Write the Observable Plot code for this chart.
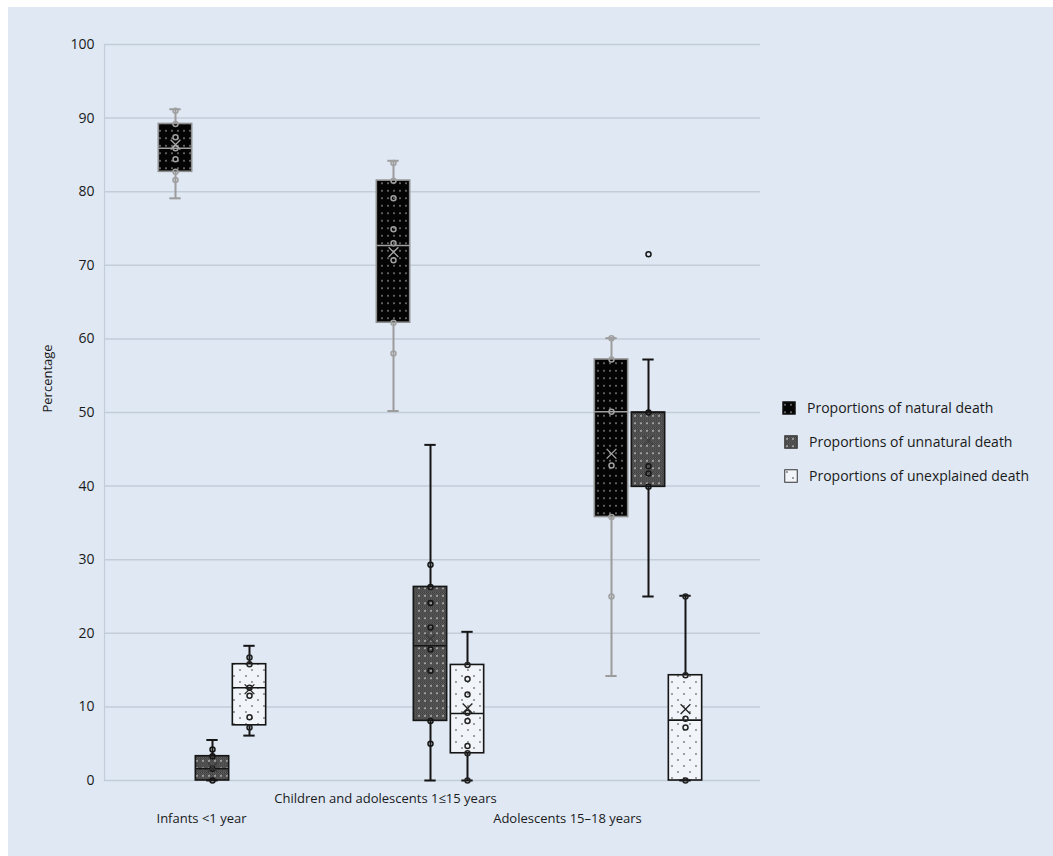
<!DOCTYPE html>
<html>
<head>
<meta charset="utf-8">
<script src="https://cdn.jsdelivr.net/npm/d3@7"></script>
<script src="https://cdn.jsdelivr.net/npm/@observablehq/plot@0.6"></script>
<style>
  body { margin: 0; background: #ffffff; }
  #panel { position: absolute; left: 8px; top: 7px; width: 1045px; height: 849px; background: #dfe8f3; overflow: hidden; }
  #chart { position: absolute; left: 0; top: 0; }
  #legend { position: absolute; left: 774px; top: 390px; font-family: "Open Sans", sans-serif; font-size: 14px; color: #1a1a1a; }
  .row { position: absolute; left: 0; display: flex; align-items: center; white-space: nowrap; }
  .row svg { margin-right: 11px; flex: none; }
</style>
</head>
<body>
<svg width="0" height="0" style="position:absolute">
  <defs>
    <pattern id="pNat" width="6" height="7.5" patternUnits="userSpaceOnUse">
      <rect width="6" height="7.5" fill="#040404"/>
      <circle cx="3" cy="3.75" r="0.75" fill="#e8e8e8"/>
    </pattern>
    <pattern id="pChk" width="2" height="2" patternUnits="userSpaceOnUse">
      <rect width="2" height="2" fill="#666666"/>
      <rect width="1" height="1" fill="#383838"/>
      <rect x="1" y="1" width="1" height="1" fill="#383838"/>
    </pattern>
    <pattern id="pUnn" width="6" height="7.5" patternUnits="userSpaceOnUse">
      <rect width="6" height="7.5" fill="url(#pChk)"/>
      <circle cx="3" cy="3.75" r="0.8" fill="#f4f4f4"/>
    </pattern>
    <pattern id="pUnx" width="12" height="12" patternUnits="userSpaceOnUse">
      <rect width="12" height="12" fill="#f1f4f8"/>
      <circle cx="3" cy="3" r="0.8" fill="#333"/>
      <circle cx="9" cy="9" r="0.8" fill="#333"/>
    </pattern>
  </defs>
</svg>
<div id="panel">
  <div id="chart"></div>
  <div id="legend"></div>
</div>
<script>
// ---- data ----
const categories = ["Infants <1 year", "Children and adolescents 1≤15 years", "Adolescents 15–18 years"];
const seriesNames = ["Proportions of natural death", "Proportions of unnatural death", "Proportions of unexplained death"];
const yTicks = [0, 10, 20, 30, 40, 50, 60, 70, 80, 90, 100];

// [min, q1, median, q3, max] per category
const naturalBox = [[79.1, 82.7, 85.9, 89.2, 91.2], [50.2, 62.2, 72.7, 81.5, 84.2], [14.2, 35.8, 50.1, 57.2, 60.1]];
const unnaturalBox = [[0, 0, 1.6, 3.3, 5.5], [0, 8.1, 18.3, 26.3, 45.6], [25.0, 39.9, 50.0, 50.0, 57.2]];
const unexplainedBox = [[6.1, 7.5, 12.6, 15.8, 18.3], [0, 3.7, 9.1, 15.7, 20.2], [0, 0, 8.2, 14.3, 25.1]];

const naturalMean = [86.4, 71.8, 44.4];
const unnaturalMean = [1.8, 19.2, 46.2];
const unexplainedMean = [12.4, 9.8, 9.7];

const naturalPoints = [[91.0, 89.2, 87.4, 85.9, 84.4, 82.7, 81.6], [83.9, 81.5, 79.1, 74.9, 73.0, 70.7, 62.2, 58.0], [60.1, 57.2, 50.1, 42.8, 35.8, 25.0]];
const unnaturalPoints = [[4.2, 3.3, 1.6, 0], [29.3, 26.3, 24.1, 20.8, 17.8, 14.9, 8.1, 5.0], [71.5, 50.0, 42.7, 41.7, 39.9]];
const unexplainedPoints = [[16.7, 15.8, 12.6, 11.5, 8.6, 7.2], [15.7, 13.8, 11.7, 9.2, 8.1, 4.7, 3.7, 0], [25.0, 14.3, 8.4, 7.2, 0]];

// ---- styles ----
const styles = [
  {fill: "url(#pNat)", stroke: "#8e8e8e", whisker: "#9c9c9c", median: "#a0a0a0", dot: "#a0a0a0", mean: "#a8a8a8"},
  {fill: "url(#pUnn)", stroke: "#151515", whisker: "#151515", median: "#151515", dot: "#151515", mean: "#3a3a3a"},
  {fill: "url(#pUnx)", stroke: "#151515", whisker: "#151515", median: "#151515", dot: "#222222", mean: "#222222"}
];
const boxes = [naturalBox, unnaturalBox, unexplainedBox];
const means = [naturalMean, unnaturalMean, unexplainedMean];
const points = [naturalPoints, unnaturalPoints, unexplainedPoints];

const bandW = 656 / 3;
const boxInset = (bandW - 34) / 2;
const capInset = (bandW - 12) / 2;

const marks = [
  Plot.ruleY(yTicks, {stroke: "#c3cdd9", strokeWidth: 1.5}),
  Plot.frame({anchor: "left", stroke: "#c3cdd9", strokeWidth: 1.2}),
  Plot.axisY({ticks: yTicks, tickSize: 0, tickPadding: 10, fontSize: 14, label: null}),
  Plot.text(["Percentage"], {frameAnchor: "left", dx: -57, rotate: -90, fontSize: 13}),
  Plot.text([categories[0]], {x: d => d, frameAnchor: "bottom", dx: -11, dy: 42, fontSize: 13}),
  Plot.text([categories[1]], {x: d => d, frameAnchor: "bottom", dx: -45, dy: 22, fontSize: 13}),
  Plot.text([categories[2]], {x: d => d, frameAnchor: "bottom", dx: -81, dy: 42, fontSize: 13})
];

seriesNames.forEach((name, i) => {
  const st = styles[i];
  const dx = (i - 1) * 37;
  const rows = categories.map((c, j) => ({
    category: c, min: boxes[i][j][0], q1: boxes[i][j][1], median: boxes[i][j][2],
    q3: boxes[i][j][3], max: boxes[i][j][4], mean: means[i][j]
  }));
  const pts = categories.flatMap((c, j) => points[i][j].map(v => ({category: c, value: v})));
  marks.push(
    Plot.ruleX(rows, {x: "category", y1: "min", y2: "max", dx, stroke: st.whisker, strokeWidth: 2}),
    Plot.barY(rows, {x: "category", y1: "q1", y2: "q3", dx, insetLeft: boxInset, insetRight: boxInset,
      fill: st.fill, stroke: st.stroke, strokeWidth: 1.6}),
    Plot.tickY(rows, {x: "category", y: "median", dx, insetLeft: boxInset, insetRight: boxInset, stroke: st.median, strokeWidth: 1.6}),
    Plot.tickY(rows, {x: "category", y: "min", dx, insetLeft: capInset, insetRight: capInset, stroke: st.whisker, strokeWidth: 2}),
    Plot.tickY(rows, {x: "category", y: "max", dx, insetLeft: capInset, insetRight: capInset, stroke: st.whisker, strokeWidth: 2}),
    Plot.dot(pts, {x: "category", y: "value", dx, r: 2.5, stroke: st.dot, strokeWidth: 1.5, fill: "none"}),
    Plot.dot(rows, {x: "category", y: "mean", dx, symbol: "times", r: 4.5, stroke: st.mean, strokeWidth: 1.3})
  );
});

const chart = Plot.plot({
  width: 1045, height: 849,
  marginLeft: 96, marginTop: 37, marginBottom: 76, marginRight: 293,
  style: {background: "transparent", fontFamily: "'Open Sans', sans-serif", fontSize: "13px", color: "#1a1a1a"},
  x: {domain: categories, range: [94, 750], padding: 0, axis: null},
  y: {domain: [0, 100], axis: null},
  marks
});
document.getElementById("chart").appendChild(chart);

// ---- legend ----
const legend = d3.select("#legend");
const rowTops = [1, 35, 69];
seriesNames.forEach((name, i) => {
  const row = legend.append("div").attr("class", "row").style("top", rowTops[i] + "px").style("left", (i === 0 ? 0 : 2) + "px");
  const sw = row.append("svg").attr("width", 14).attr("height", 14);
  sw.append("rect").attr("x", 0.75).attr("y", 0.75).attr("width", 12.5).attr("height", 12.5)
    .attr("fill", styles[i].fill).attr("stroke", i === 0 ? "#222" : "#333").attr("stroke-width", 1);
  row.append("span").text(name);
});
</script>
</body>
</html>
